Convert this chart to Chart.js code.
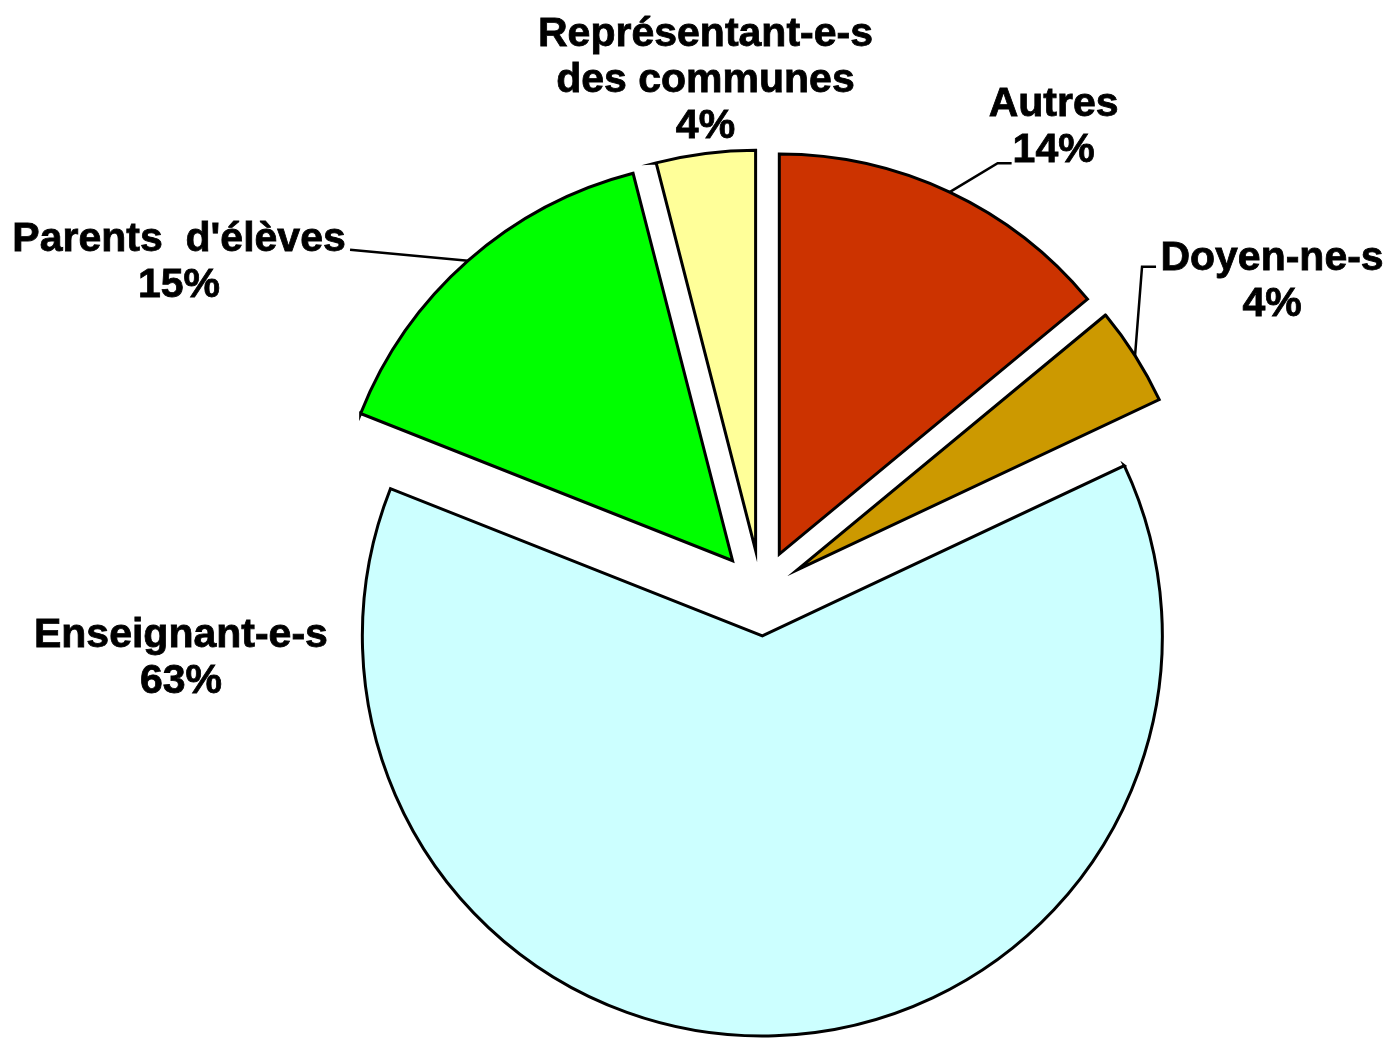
<!DOCTYPE html>
<html>
<head>
<meta charset="utf-8">
<script src="https://cdn.jsdelivr.net/npm/chart.js@4/dist/chart.umd.min.js"></script>
<style>
  html, body { margin: 0; padding: 0; background: #fff; }
  #wrap { width: 1390px; height: 1038px; }
</style>
</head>
<body>
<div id="wrap"><canvas id="pie" width="1390" height="1038"></canvas></div>
<script>
// data (clockwise from 12 o'clock)
const categories = ['Autres', 'Doyen-ne-s', 'Enseignant-e-s', "Parents  d'élèves", 'Représentant-e-s des communes'];
const labelLines = [['Autres'], ['Doyen-ne-s'], ['Enseignant-e-s'], ["Parents  d'élèves"], ['Représentant-e-s', 'des communes']];
const shares = [14, 4, 63, 15, 4];

const sliceColors = ['#CC3300', '#CC9900', '#CCFFFF', '#00FF00', '#FFFF99'];

const EXPLODE = 43;      // every slice pulled out from the centre
const LINE_H = 46;

// label placement relative to the outer mid point of each slice
const labelLayout = [
  { dx: 104, dy: -76, leader: [[48, -29], [62, -29]] },
  { dx: 137, dy: -86, leader: [[7, -89], [21, -89]] },
  { dx: -594, dy: -389, leader: null },
  { dx: -289, dy: -10, leader: [[-118, -11]] },
  { dx: 0, dy: -107, leader: null },
];

const explodePlugin = {
  id: 'explode',
  afterDatasetUpdate(chart, args) {
    args.meta.data.forEach(arc => {
      const mid = (arc.startAngle + arc.endAngle) / 2;
      arc.x += Math.cos(mid) * EXPLODE;
      arc.y += Math.sin(mid) * EXPLODE;
    });
  }
};

const labelPlugin = {
  id: 'sliceLabels',
  afterDraw(chart) {
    const ctx = chart.ctx;
    const arcs = chart.getDatasetMeta(0).data;
    ctx.save();
    ctx.fillStyle = '#000';
    ctx.strokeStyle = '#000';
    ctx.font = 'bold 41px "Liberation Sans", Arial, sans-serif';
    ctx.textAlign = 'center';
    ctx.textBaseline = 'alphabetic';
    arcs.forEach((arc, i) => {
      const mid = (arc.startAngle + arc.endAngle) / 2;
      const ax = arc.x + Math.cos(mid) * arc.outerRadius;
      const ay = arc.y + Math.sin(mid) * arc.outerRadius;
      const lay = labelLayout[i];
      if (lay.leader) {
        ctx.lineWidth = 2.5;
        ctx.beginPath();
        ctx.moveTo(ax, ay);
        lay.leader.forEach(p => ctx.lineTo(ax + p[0], ay + p[1]));
        ctx.stroke();
      }
      const lines = labelLines[i].concat([shares[i] + '%']);
      ctx.lineWidth = 0.8;
      lines.forEach((t, k) => {
        const tx = ax + lay.dx, ty = ay + lay.dy + k * LINE_H;
        ctx.fillText(t, tx, ty);
        ctx.strokeText(t, tx, ty);
      });
    });
    ctx.restore();
  }
};

new Chart(document.getElementById('pie'), {
  type: 'pie',
  data: {
    labels: categories,
    datasets: [{
      data: shares,
      backgroundColor: sliceColors,
      borderColor: '#000',
      borderWidth: 3,
      borderJoinStyle: 'miter',
      radius: 400
    }]
  },
  options: {
    responsive: false,
    animation: false,
    layout: { padding: { left: 132, top: 148, right: 0, bottom: 0 } },
    plugins: {
      legend: { display: false },
      tooltip: { enabled: false }
    }
  },
  plugins: [explodePlugin, labelPlugin]
});
</script>
</body>
</html>
